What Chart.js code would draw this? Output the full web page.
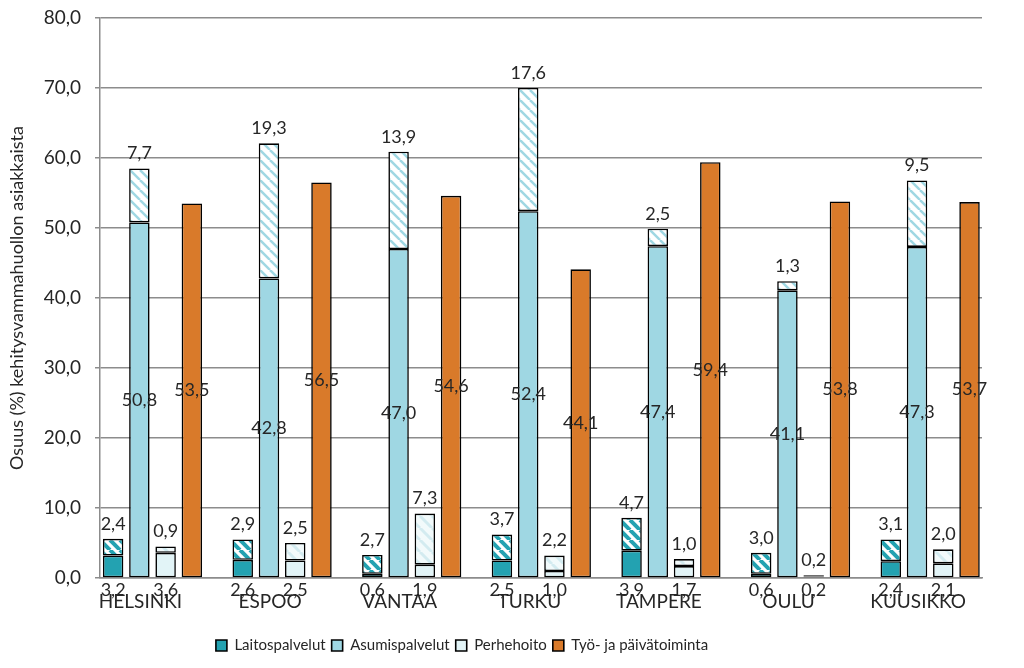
<!DOCTYPE html>
<html>
<head>
<meta charset="utf-8">
<script src="https://cdn.jsdelivr.net/npm/chart.js@4/dist/chart.umd.min.js"></script>
<style>
  html, body { margin: 0; padding: 0; background: #fff; }
  #wrap { width: 1024px; height: 668px; }
</style>
</head>
<body>
<div id="wrap"><canvas id="chart" width="1024" height="668"></canvas></div>
<script>
const cities = ['HELSINKI', 'ESPOO', 'VANTAA', 'TURKU', 'TAMPERE', 'OULU', 'KUUSIKKO'];
const laitosBase = [3.2, 2.6, 0.6, 2.5, 3.9, 0.6, 2.4];
const laitosTop = [2.4, 2.9, 2.7, 3.7, 4.7, 3.0, 3.1];
const asumisBase = [50.8, 42.8, 47.0, 52.4, 47.4, 41.1, 47.3];
const asumisTop = [7.7, 19.3, 13.9, 17.6, 2.5, 1.3, 9.5];
const perheBase = [3.6, 2.5, 1.9, 1.0, 1.7, 0.2, 2.1];
const perheTop = [0.9, 2.5, 7.3, 2.2, 1.0, 0.2, 2.0];
const tyo = [53.5, 56.5, 54.6, 44.1, 59.4, 53.8, 53.7];
const yTicks = [0, 10, 20, 30, 40, 50, 60, 70, 80];

const TEXT = '#262626';
const GRID = '#8c8c8c';

Chart.defaults.font.family = 'Lato';

function stripes(bg, fg, size, width) {
    const c = document.createElement('canvas');
    c.width = size;
    c.height = size;
    const g = c.getContext('2d');
    g.fillStyle = bg;
    g.fillRect(0, 0, size, size);
    g.strokeStyle = fg;
    g.lineWidth = width;
    for (let k = -1; k <= 1; k++) {
        g.beginPath();
        g.moveTo(k * size, 0);
        g.lineTo(k * size + size, size);
        g.stroke();
    }
    return g.createPattern(c, 'repeat');
}

const fmt = v => v.toFixed(1).replace('.', ',');
const pts = arr => arr.map((v, i) => ({ x: i, y: v }));

function bar(label, values, stack, color, labelPos, inLegend) {
    return {
        label: label,
        data: pts(values),
        stack: stack,
        backgroundColor: color,
        borderColor: '#000',
        borderWidth: 1.6,
        borderSkipped: false,
        labelPos: labelPos,
        inLegend: inLegend
    };
}

const valueLabels = {
    id: 'valueLabels',
    afterDatasetsDraw(chart) {
        const { ctx, scales: { y } } = chart;
        const zeroY = y.getPixelForValue(0);
        ctx.save();
        ctx.font = '18px Lato';
        ctx.fillStyle = TEXT;
        ctx.textAlign = 'center';
        ctx.textBaseline = 'middle';
        chart.data.datasets.forEach((ds, i) => {
            chart.getDatasetMeta(i).data.forEach((el, j) => {
                let ty;
                if (ds.labelPos === 'below') ty = zeroY + 12;
                else if (ds.labelPos === 'above') ty = el.y - 15;
                else ty = (el.y + el.base) / 2;
                ctx.fillText(fmt(ds.data[j].y), el.x, ty);
            });
        });
        ctx.restore();
    }
};

// legend sits left of centre in the original
const legendShift = {
    id: 'legendShift',
    afterLayout(chart) {
        const l = chart.legend;
        l.left = 0;
        l.right = 930 - l.options.labels.padding;
    }
};

new Chart(document.getElementById('chart'), {
    type: 'bar',
    data: {
        datasets: [
            bar('Laitospalvelut', laitosBase, 'L', '#23a2b1', 'below', true),
            bar('Laitospalvelut ', laitosTop, 'L', stripes('#ffffff', '#23a2b1', 10, 4), 'above', false),
            bar('Asumispalvelut', asumisBase, 'A', '#9fd7e3', 'middle', true),
            bar('Asumispalvelut ', asumisTop, 'A', stripes('#ffffff', '#9fd7e3', 10, 2.5), 'above', false),
            bar('Perhehoito', perheBase, 'P', '#e2f4f7', 'below', true),
            bar('Perhehoito ', perheTop, 'P', stripes('#f2fafb', '#d3ebf0', 12, 3), 'above', false),
            bar('Työ- ja päivätoiminta', tyo, 'T', '#d97a2a', 'middle', true)
        ]
    },
    options: {
        responsive: false,
        animation: false,
        barPercentage: 0.78,
        categoryPercentage: 0.81,
        layout: { padding: { top: 18, right: 42, bottom: 5, left: 0 } },
        scales: {
            x: {
                type: 'linear',
                stacked: true,
                offset: false,
                bounds: 'data',
                min: -0.405,
                max: 6.4,
                afterBuildTicks: s => { s.ticks = cities.map((c, i) => ({ value: i })); },
                afterFit: s => { s.height = 54; s.paddingLeft = 0; s.paddingRight = 0; },
                grid: { display: false, drawTicks: false, offset: false },
                border: { color: GRID, width: 1.5 },
                ticks: {
                    callback: v => cities[v],
                    autoSkip: false,
                    maxRotation: 0,
                    padding: 12,
                    labelOffset: -12,
                    color: TEXT,
                    font: { size: 19 }
                }
            },
            y: {
                stacked: true,
                min: 0,
                max: 80,
                afterBuildTicks: s => { s.ticks = yTicks.map(v => ({ value: v })); },
                afterFit: s => { s.width = 100; s.paddingTop = 0; s.paddingBottom = 0; },
                grid: { color: GRID, lineWidth: 1.5, tickLength: 5 },
                border: { color: GRID, width: 1.5 },
                ticks: {
                    callback: v => fmt(v),
                    padding: 14,
                    color: TEXT,
                    font: { size: 19 }
                },
                title: {
                    display: true,
                    text: 'Osuus (%) kehitysvammahuollon asiakkaista',
                    color: TEXT,
                    font: { size: 18 },
                    padding: { top: 6, bottom: 0 }
                }
            }
        },
        plugins: {
            legend: {
                position: 'bottom',
                labels: {
                    boxWidth: 11,
                    boxHeight: 11,
                    padding: 6,
                    color: TEXT,
                    font: { size: 15 },
                    filter: (item, data) => data.datasets[item.datasetIndex].inLegend
                }
            },
            tooltip: { enabled: false }
        }
    },
    plugins: [valueLabels, legendShift]
});
</script>
</body>
</html>
